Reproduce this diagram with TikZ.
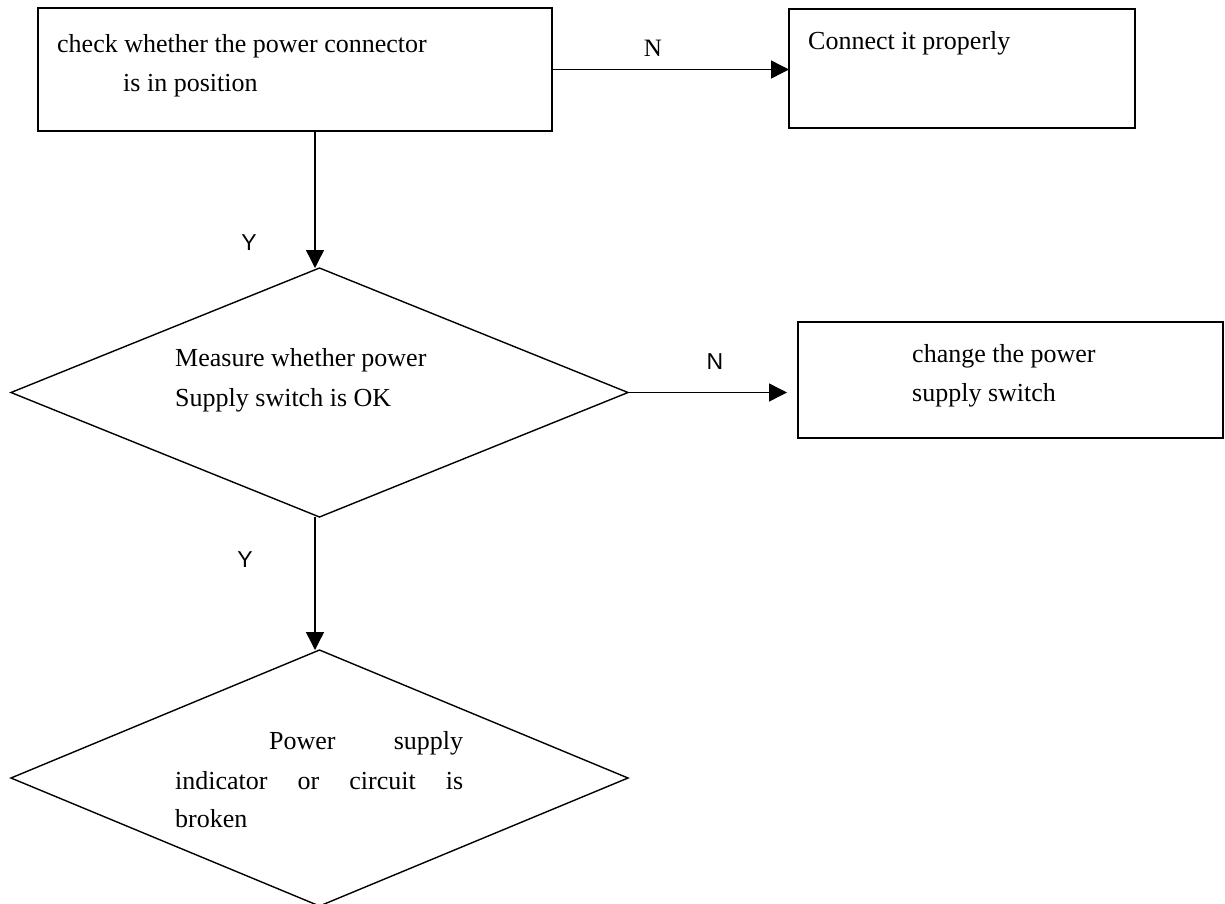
\documentclass[tikz,border=0pt]{standalone}
\usepackage{fontspec}
\setmainfont{Liberation Serif}
\newfontfamily\sansf{Liberation Sans}
\usetikzlibrary{arrows.meta,shapes.geometric}
\begin{document}
\begin{tikzpicture}[x=1pt,y=-1pt,
  shapebox/.style={draw=black, line width=1.4pt, inner sep=0pt, outer sep=0pt},
  dia/.style={shapebox, diamond, shape aspect=2.4},
  txt/.style={anchor=base west, inner sep=0pt, font=\fontsize{26}{39}\selectfont},
  lab/.style={inner sep=0pt, font=\sansf\fontsize{23}{23}\selectfont},
  serlab/.style={inner sep=0pt, font=\fontsize{25}{25}\selectfont},
  arr/.style={line width=1.4pt, -{Triangle[length=18pt,width=18pt]}}]
\useasboundingbox (0,0) rectangle (1225,903);
% shapes
\node[shapebox, minimum width=514pt, minimum height=123pt] (b1) at (295,69.5) {};
\node[shapebox, minimum width=346pt, minimum height=119pt] (b2) at (962,68.5) {};
\node[shapebox, minimum width=425pt, minimum height=116pt] (b3) at (1010.5,380) {};
\node[dia, minimum width=617pt, minimum height=249pt] (d1) at (319.5,392.5) {};
\node[dia, minimum width=617pt, minimum height=256pt] (d2) at (319.5,778) {};
% texts
\node[txt] (t1a) at (57,52) {check whether the power connector};
\node[txt] (t1b) at (123,91) {is in position};
\node[txt] (t2) at (808,49) {Connect it properly};
\node[txt] (t3a) at (912,362) {change the power};
\node[txt] (t3b) at (912,401) {supply switch};
\node[txt] (t4a) at (175,366) {Measure whether power};
\node[txt] (t4b) at (175,406) {Supply switch is OK};
\node[txt] (t5a) at (175,749) {\hbox to 288pt{\hspace*{94pt}Power\hfill supply}};
\node[txt] (t5b) at (175,789) {\hbox to 288pt{indicator\hfill or\hfill circuit\hfill is}};
\node[txt] (t5c) at (175,827) {broken};
% labels
\node[serlab] (n1) at (653,48) {N};
\node[lab] (n2) at (715,362) {N};
\node[lab] (y1) at (249,243) {Y};
\node[lab] (y2) at (245,560) {Y};
% connectors
\path (b1.east -| b2.west) coordinate (b2in);
\draw[arr] (b1.east) -- (b2in);
\draw[arr] ([xshift=20pt]b1.south) -- ([xshift=-4.5pt]d1.north);
\path (d1.east -| b3.west) coordinate (b3in);
\draw[arr] (d1.east) -- ([xshift=-11pt]b3in);
\draw[arr] ([xshift=-4.5pt]d1.south) -- ([xshift=-4.5pt]d2.north);
\end{tikzpicture}
\end{document}
